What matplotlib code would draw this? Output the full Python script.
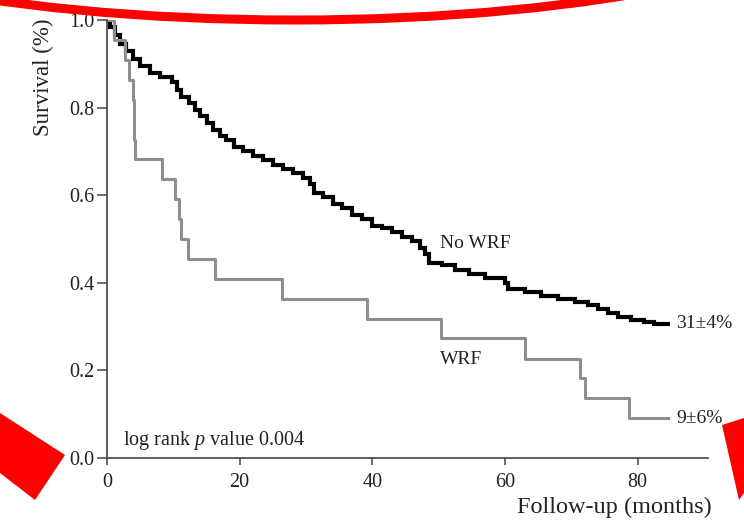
import numpy as np
import matplotlib
matplotlib.use("Agg")
import matplotlib.pyplot as plt
from matplotlib.patches import Ellipse, Polygon

# Kaplan-Meier curves (months, survival fraction)
no_wrf_t = [0, 0.5, 1.2, 2.0, 2.8, 3.9, 5.0, 6.5, 8.0, 9.8, 10.5, 11.2, 12.3,
            13.2, 14.0, 15.0, 16.0, 17.0, 18.0, 19.2, 20.5, 22.0, 23.5, 25.0,
            26.5, 28.0, 29.5, 30.6, 31.2, 32.5, 34.0, 35.5, 37.0, 38.5, 40.0,
            41.5, 43.0, 44.5, 46.0, 47.2, 48.0, 48.6, 50.5, 52.5, 54.5, 57.0,
            60.0, 60.5, 63.0, 65.5, 68.0, 70.5, 72.5, 74.0, 75.5, 77.0, 79.0,
            81.0, 82.5]
no_wrf_s = [1.0, 0.985, 0.965, 0.945, 0.93, 0.91, 0.895, 0.88, 0.87, 0.858,
            0.84, 0.825, 0.81, 0.795, 0.78, 0.765, 0.75, 0.735, 0.725, 0.71,
            0.70, 0.69, 0.68, 0.67, 0.66, 0.65, 0.64, 0.625, 0.605, 0.595,
            0.58, 0.57, 0.555, 0.545, 0.53, 0.525, 0.515, 0.505, 0.495, 0.48,
            0.465, 0.445, 0.44, 0.43, 0.42, 0.41, 0.40, 0.385, 0.378, 0.37,
            0.362, 0.356, 0.35, 0.34, 0.33, 0.322, 0.315, 0.31, 0.305]
no_wrf_end = 84.5

wrf_t = [0, 1.0, 2.7, 3.3, 3.9, 4.0, 4.1, 4.2, 8.3, 10.3, 10.8, 11.2, 12.2,
         16.3, 26.4, 39.2, 50.4, 63.0, 71.3, 72.1, 78.7]
wrf_s = [1.0, 0.955, 0.909, 0.864, 0.818, 0.773, 0.727, 0.682, 0.636, 0.591,
         0.545, 0.500, 0.455, 0.409, 0.364, 0.318, 0.273, 0.227, 0.182, 0.136,
         0.091]
wrf_end = 84.5

x_ticks = [0, 20, 40, 60, 80]
y_ticks = [0.0, 0.2, 0.4, 0.6, 0.8, 1.0]

plt.rcParams['font.family'] = ['Liberation Serif', 'DejaVu Serif']
plt.rcParams['mathtext.fontset'] = 'custom'
plt.rcParams['mathtext.rm'] = 'Liberation Serif'
plt.rcParams['mathtext.it'] = 'Liberation Serif:italic'
txt = '#222222'

fig = plt.figure(figsize=(7.44, 5.26), dpi=100)
ax = fig.add_axes([107/744, 68/526, 601/744, 438/526])

ax.step(no_wrf_t + [no_wrf_end], no_wrf_s + [no_wrf_s[-1]], where='post',
        color='black', lw=3.0, solid_joinstyle='miter')
ax.step(wrf_t + [wrf_end], wrf_s + [wrf_s[-1]], where='post',
        color='#8e8e8e', lw=2.2)

ax.set_xlim(0, 90.6)
ax.set_ylim(0, 1.0)
ax.set_xticks(x_ticks)
ax.set_yticks(y_ticks)
ax.set_yticklabels([f'{v:.1f}' for v in y_ticks])
for s in ['top', 'right']:
    ax.spines[s].set_visible(False)
for s in ['left', 'bottom']:
    ax.spines[s].set_color('#444444')
    ax.spines[s].set_linewidth(1.2)
ax.tick_params(axis='y', direction='out', length=7, width=1.1, color='#444444',
               labelsize=14.5, labelcolor=txt, pad=2)
ax.tick_params(axis='x', direction='out', length=5, width=1.1, color='#444444',
               labelsize=14.5, labelcolor=txt, pad=6)

ax.set_ylabel('Survival (%)', fontsize=16.5, color=txt, va='center')
ax.yaxis.set_label_coords(-0.106, 0.87)
ax.set_xlabel('Follow-up (months)', fontsize=17.5, color=txt, loc='right', va='center')
ax.xaxis.set_label_coords(1.007, -0.112)

ax.text(50.2, 0.49, 'No WRF', fontsize=14, color=txt, va='center')
ax.text(50.2, 0.224, 'WRF', fontsize=14, color=txt, va='center')
ax.text(85.8, 0.308, '31±4%', fontsize=14, color=txt, va='center')
ax.text(85.8, 0.091, '9±6%', fontsize=14, color=txt, va='center')
ax.text(2.4, 0.04, 'log rank $p$ value 0.004', fontsize=14.5, color=txt, va='center')

# red hand-drawn annotations on the figure
W, H = 744, 526
ell = Ellipse((295/W, 1 + 110/H), 2*565/W, 2*130/H, transform=fig.transFigure,
              fill=False, edgecolor='#ff0000', lw=6.5, clip_on=False)
fig.patches.append(ell)
for pts in ([(0, 413), (65, 455), (35, 500), (0, 473)],
            [(722, 425), (744, 418), (744, 493), (739, 500)]):
    poly = Polygon([(x/W, 1 - y/H) for x, y in pts], closed=True,
                   transform=fig.transFigure, facecolor='#ff0000',
                   edgecolor='none')
    fig.patches.append(poly)

fig.savefig('out.png', dpi=100, facecolor='white')
